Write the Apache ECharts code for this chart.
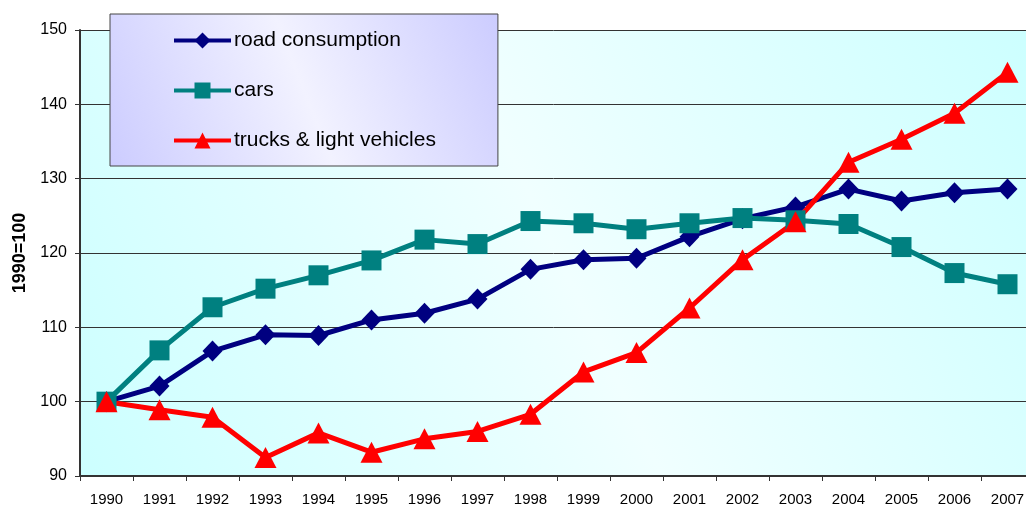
<!DOCTYPE html>
<html>
<head>
<meta charset="utf-8">
<script src="https://cdn.jsdelivr.net/npm/echarts@6/dist/echarts.min.js"></script>
<style>
  html, body { margin: 0; padding: 0; background: #fff; }
  #chart { width: 1026px; height: 506px; }
</style>
</head>
<body>
<div id="chart"></div>
<script>
// years on the x axis
const years = ['1990', '1991', '1992', '1993', '1994', '1995', '1996', '1997', '1998',
    '1999', '2000', '2001', '2002', '2003', '2004', '2005', '2006', '2007']

// index values, 1990 = 100
const roadConsumption = [100, 102.1, 106.8, 109.0, 108.9, 111.0, 111.9, 113.8, 117.8,
    119.1, 119.3, 122.2, 124.6, 126.2, 128.6, 127.0, 128.1, 128.6]
const cars = [100, 106.9, 112.7, 115.2, 117.0, 119.0, 121.8, 121.2, 124.3,
    124.0, 123.2, 124.0, 124.7, 124.4, 123.9, 120.8, 117.3, 115.8]
const trucks = [100, 98.9, 97.9, 92.5, 95.8, 93.2, 95.0, 96.0, 98.3,
    104.0, 106.6, 112.6, 119.1, 124.2, 132.2, 135.3, 138.8, 144.3]

const seriesNames = ['road consumption', 'cars', 'trucks & light vehicles']

const font = '"Liberation Sans", Arial, sans-serif'

let chart = echarts.init(document.getElementById('chart'))

let option = {
    animation: false,
    textStyle: { fontFamily: font },
    grid: {
        left: 80,
        top: 30,
        width: 954,
        height: 446,
        outerBoundsMode: 'none',
        containLabel: false,
        show: true,
        borderWidth: 0,
        backgroundColor: new echarts.graphic.LinearGradient(1, 0, 0, 1, [
            { offset: 0, color: '#ccffff' },
            { offset: 0.5, color: '#f0ffff' },
            { offset: 1, color: '#ccffff' }
        ])
    },
    legend: {
        orient: 'vertical',
        left: 110,
        top: 14,
        padding: [16, 62, 15, 62],
        itemGap: 29,
        itemWidth: 57,
        itemHeight: 20,
        data: seriesNames,
        lineStyle: { width: 4 },
        backgroundColor: new echarts.graphic.LinearGradient(1, 0, 0, 1, [
            { offset: 0, color: '#ccccff' },
            { offset: 0.5, color: '#f2f2ff' },
            { offset: 1, color: '#ccccff' }
        ]),
        borderColor: '#444',
        borderWidth: 1,
        textStyle: { fontSize: 21, color: '#000', fontFamily: font, padding: [0, 0, 0, -2] }
    },
    xAxis: {
        type: 'category',
        data: years,
        boundaryGap: true,
        axisLine: { lineStyle: { color: '#333', width: 2 } },
        axisTick: { show: true, length: 5, lineStyle: { color: '#333' } },
        axisLabel: { fontSize: 15, color: '#000', margin: 16, interval: 0 },
        splitLine: { show: false }
    },
    yAxis: {
        type: 'value',
        min: 90,
        max: 150,
        interval: 10,
        name: '1990=100',
        nameLocation: 'middle',
        nameGap: 50,
        nameRotate: 90,
        nameTextStyle: { fontSize: 18, fontWeight: 'bold', color: '#000' },
        axisLine: { show: true, lineStyle: { color: '#333', width: 2 } },
        axisTick: { show: true, length: 5, lineStyle: { color: '#333' } },
        axisLabel: { fontSize: 16, color: '#000', margin: 13 },
        splitLine: { lineStyle: { color: '#333', width: 1 } }
    },
    series: [
        {
            name: seriesNames[0],
            type: 'line',
            data: roadConsumption,
            symbol: 'diamond',
            symbolSize: [20, 21],
            color: '#000080',
            lineStyle: { width: 5, color: '#000080' },
            itemStyle: { color: '#000080' }
        },
        {
            name: seriesNames[1],
            type: 'line',
            data: cars,
            symbol: 'rect',
            symbolSize: 20,
            color: '#008080',
            lineStyle: { width: 5, color: '#008080' },
            itemStyle: { color: '#008080' }
        },
        {
            name: seriesNames[2],
            type: 'line',
            data: trucks,
            symbol: 'triangle',
            symbolSize: [22, 21],
            color: '#ff0000',
            lineStyle: { width: 5, color: '#ff0000' },
            itemStyle: { color: '#ff0000' }
        }
    ]
}

chart.setOption(option)
</script>
</body>
</html>
